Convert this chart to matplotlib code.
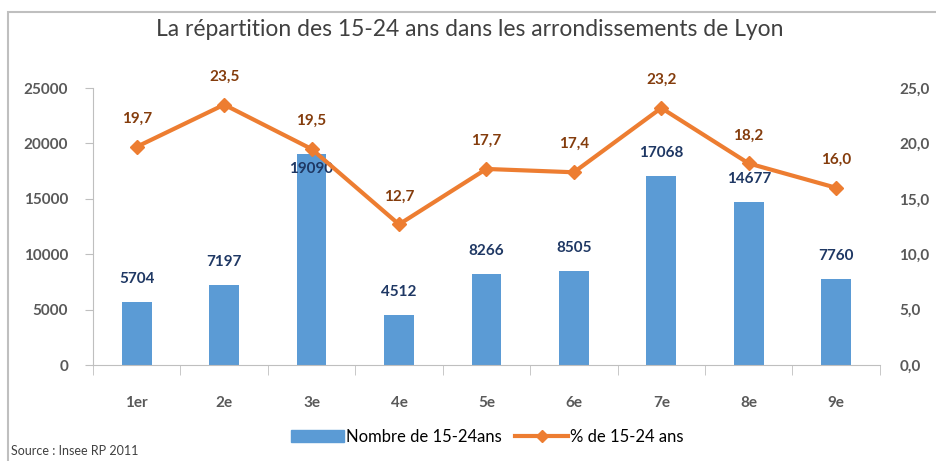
import matplotlib
matplotlib.use("Agg")
from matplotlib import pyplot as plt
from matplotlib.patches import Rectangle
from matplotlib.lines import Line2D
from matplotlib.patches import Patch

plt.rcParams['font.family'] = ['Lato', 'DejaVu Sans']

arrondissements = ['1er', '2e', '3e', '4e', '5e', '6e', '7e', '8e', '9e']
nombre = [5704, 7197, 19090, 4512, 8266, 8505, 17068, 14677, 7760]
pourcent = [19.7, 23.5, 19.5, 12.7, 17.7, 17.4, 23.2, 18.2, 16.0]

bleu = '#5B9BD5'
orange = '#ED7D31'
gris = '#595959'

fig = plt.figure(figsize=(9.37, 4.61), dpi=100)
ax = fig.add_axes([0.0993, 0.208, 0.8397, 0.601])
x = list(range(len(arrondissements)))

ax.bar(x, nombre, width=0.34, color=bleu, zorder=2)
ax.set_xlim(-0.5, 8.5)
ax.set_ylim(0, 25000)
ax.set_yticks([0, 5000, 10000, 15000, 20000, 25000])
ax.set_xticks(x)
ax.set_xticklabels(arrondissements)
ax.set_xticks([i + 0.5 for i in range(-1, 9)], minor=True)
ax.tick_params(axis='x', which='major', length=0, pad=22, labelsize=11, labelcolor=gris)
ax.tick_params(axis='x', which='minor', length=7, color='#BFBFBF', direction='out')
ax.tick_params(axis='y', length=6, color='#BFBFBF', labelsize=11, labelcolor=gris, pad=12)
for lab in ax.get_yticklabels() + ax.get_xticklabels():
    lab.set_fontweight('bold')
for s in ['top', 'right']:
    ax.spines[s].set_visible(False)
ax.spines['left'].set_color('#BFBFBF')
ax.spines['bottom'].set_color('#BFBFBF')

for i, v in enumerate(nombre):
    if i == 2:
        ax.annotate(str(v), (i, v), xytext=(0, -15), textcoords='offset pixels',
                    ha='center', va='center', fontsize=11, fontweight='bold',
                    color='#1F3864', zorder=5)
    else:
        ax.annotate(str(v), (i, v), xytext=(0, 23), textcoords='offset pixels',
                    ha='center', va='center', fontsize=11, fontweight='bold',
                    color='#1F3864')

ax2 = ax.twinx()
ax2.plot(x, pourcent, color=orange, linewidth=3, marker='D', markersize=7, zorder=3)
ax2.set_ylim(0, 25)
ax2.set_yticks([0, 5, 10, 15, 20, 25])
ax2.set_yticklabels(['0,0', '5,0', '10,0', '15,0', '20,0', '25,0'])
ax2.tick_params(axis='y', length=0, labelsize=11, labelcolor=gris, pad=14)
for lab in ax2.get_yticklabels():
    lab.set_fontweight('bold')
for s in ['top', 'right', 'left', 'bottom']:
    ax2.spines[s].set_visible(False)
for i, v in enumerate(pourcent):
    ax2.annotate(f'{v:.1f}'.replace('.', ','), (i, v), xytext=(0, 28),
                 textcoords='offset pixels', ha='center', va='center',
                 fontsize=11, fontweight='bold', color='#843C0C')

fig.text(0.501, 0.935, 'La répartition des 15-24 ans dans les arrondissements de Lyon',
         ha='center', va='center', fontsize=16.5, color='#404040')

handles = [Patch(color=bleu), Line2D([0], [0], color=orange, linewidth=3, marker='D', markersize=6)]
fig.legend(handles, ['Nombre de 15-24ans', '% de 15-24 ans'], loc='center',
           bbox_to_anchor=(0.52, 0.052), ncol=2, frameon=False, fontsize=12,
           handlelength=3.2, columnspacing=0.8, handletextpad=0.1)

fig.text(0.012, 0.022, 'Source : Insee RP 2011', ha='left', va='center', fontsize=9, color='#404040')

fig.patches.append(Rectangle((0.009, -0.05), 1.1, 1.024, transform=fig.transFigure,
                             fill=False, edgecolor='#BFBFBF', linewidth=1.5))

fig.savefig('out.png', dpi=100)
